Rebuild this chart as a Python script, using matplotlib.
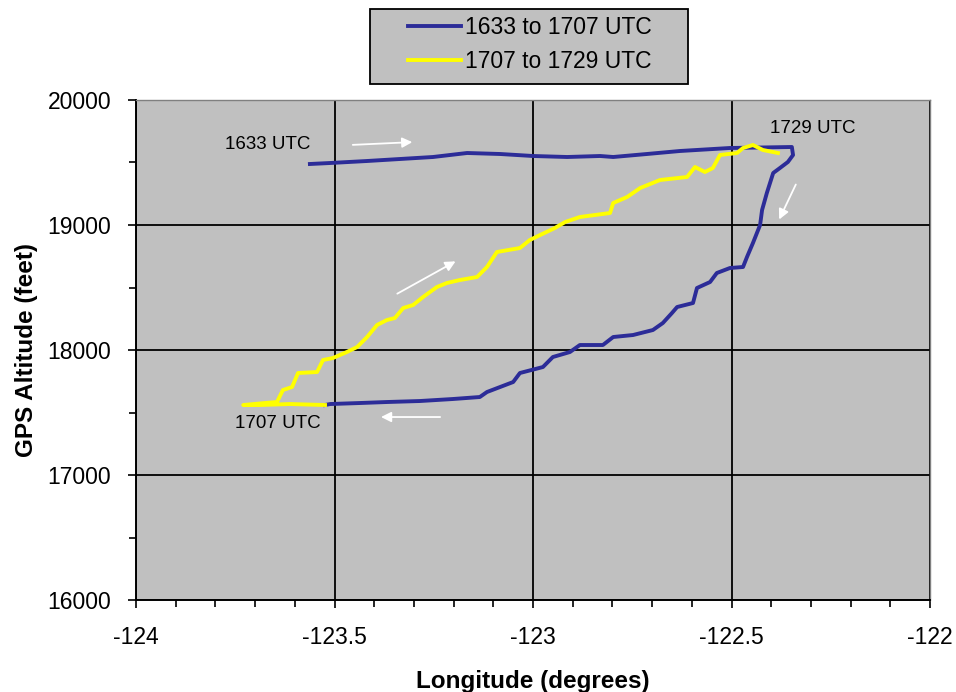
import matplotlib.pyplot as plt
from matplotlib.patches import Rectangle
from matplotlib.ticker import MultipleLocator

plt.rcParams['font.family'] = ['Liberation Sans', 'DejaVu Sans']

# leg 1: 1633 to 1707 UTC
lon_1 = [-123.562, -123.511, -123.418, -123.335, -123.252, -123.166, -123.083, -123.000,
         -122.914, -122.831, -122.798, -122.713, -122.630, -122.504, -122.348, -122.345,
         -122.358, -122.378, -122.395, -122.411, -122.423, -122.428, -122.446, -122.461,
         -122.471, -122.504, -122.537, -122.554, -122.587, -122.597, -122.637, -122.650,
         -122.673, -122.698, -122.748, -122.798, -122.824, -122.882, -122.907, -122.950,
         -122.975, -123.033, -123.050, -123.083, -123.116, -123.134, -123.202, -123.285,
         -123.368, -123.436, -123.511, -123.524]
alt_1 = [19488, 19496, 19512, 19528, 19544, 19576, 19568, 19552,
         19544, 19552, 19544, 19568, 19592, 19616, 19624, 19560,
         19504, 19456, 19416, 19256, 19120, 19000, 18856, 18744,
         18664, 18656, 18616, 18544, 18496, 18376, 18344, 18296,
         18216, 18160, 18120, 18104, 18040, 18040, 17984, 17944,
         17864, 17816, 17744, 17704, 17664, 17624, 17608, 17592,
         17584, 17576, 17568, 17560]

# leg 2: 1707 to 1729 UTC
lon_2 = [-123.524, -123.612, -123.688, -123.730, -123.675, -123.645, -123.630, -123.607,
         -123.592, -123.544, -123.529, -123.504, -123.469, -123.443, -123.418, -123.393,
         -123.368, -123.348, -123.327, -123.302, -123.277, -123.242, -123.217, -123.184,
         -123.141, -123.116, -123.091, -123.033, -123.008, -122.982, -122.945, -122.919,
         -122.882, -122.806, -122.798, -122.763, -122.730, -122.680, -122.612, -122.592,
         -122.567, -122.547, -122.529, -122.486, -122.471, -122.446, -122.421, -122.383]
alt_2 = [17560, 17568, 17560, 17560, 17576, 17584, 17680, 17704,
         17816, 17824, 17920, 17936, 17984, 18024, 18104, 18200,
         18240, 18256, 18336, 18360, 18424, 18504, 18536, 18560,
         18584, 18664, 18784, 18816, 18880, 18920, 18976, 19024,
         19064, 19096, 19176, 19224, 19296, 19360, 19384, 19464,
         19424, 19456, 19560, 19576, 19616, 19640, 19600, 19576]

# time labels
time_labels = ['1633 UTC', '1729 UTC', '1707 UTC']
time_lon = [-123.776, -122.403, -123.751]
time_alt = [19640, 19768, 17416]

# direction arrows (start lon, start alt, end lon, end alt)
arrows = [(-123.461, 19640, -123.297, 19664),
          (-123.348, 18440, -123.189, 18720),
          (-123.227, 17464, -123.390, 17464),
          (-122.335, 19344, -122.383, 19024)]

fig = plt.figure(figsize=(9.56, 6.92), dpi=100)
ax = fig.add_axes([0.1423, 0.1329, 0.8305, 0.7226])
ax.set_facecolor('#c0c0c0')

ax.plot(lon_1, alt_1, color='#2c2c98', linewidth=2.8, label='1633 to 1707 UTC', zorder=3)
ax.plot(lon_2, alt_2, color='#ffff00', linewidth=2.8, label='1707 to 1729 UTC', zorder=3)

for label, x, y in zip(time_labels, time_lon, time_alt):
    ax.text(x, y, label, fontsize=13.5, ha='left', va='center', color='black')

for x0, y0, x1, y1 in arrows:
    ax.annotate('', xy=(x1, y1), xytext=(x0, y0),
                arrowprops=dict(arrowstyle='-|>', color='white', lw=1.3, mutation_scale=15))

ax.set_xlim(-124, -122)
ax.set_ylim(16000, 20000)
ax.xaxis.set_major_locator(MultipleLocator(0.5))
ax.xaxis.set_minor_locator(MultipleLocator(0.1))
ax.yaxis.set_major_locator(MultipleLocator(1000))
ax.yaxis.set_minor_locator(MultipleLocator(500))
ax.set_xticks([-124, -123.5, -123, -122.5, -122])
ax.set_xticklabels(['-124', '-123.5', '-123', '-122.5', '-122'])
ax.grid(True, which='major', color='black', linewidth=1.3, zorder=1)
ax.set_axisbelow(True)
ax.tick_params(which='both', direction='out', color='black', labelsize=16.5)
ax.tick_params(which='major', length=6, width=1.2)
ax.tick_params(which='minor', length=5, width=1.2)
ax.tick_params(axis='x', pad=13)
ax.tick_params(axis='y', pad=12)

for s in ['left', 'bottom']:
    ax.spines[s].set_color('black')
    ax.spines[s].set_linewidth(1.4)
for s in ['top', 'right']:
    ax.spines[s].set_color('#808080')
    ax.spines[s].set_linewidth(1.0)

ax.set_xlabel('Longitude (degrees)', fontsize=17.5, fontweight='bold', labelpad=15)
ax.set_ylabel('GPS Altitude (feet)', fontsize=17.5, fontweight='bold', labelpad=7)

# legend box
fig.patches.append(Rectangle((0.387, 0.8786), 0.3326, 0.1084, transform=fig.transFigure,
                             facecolor='#c0c0c0', edgecolor='black', linewidth=1.3, zorder=0))
leg = fig.legend(loc='center', bbox_to_anchor=(0.5544, 0.9357), fontsize=16.5,
                 frameon=False, handlelength=2.3, handletextpad=0.2, labelspacing=0.5,
                 borderpad=0, borderaxespad=0)

fig.savefig('out.png', dpi=100)
